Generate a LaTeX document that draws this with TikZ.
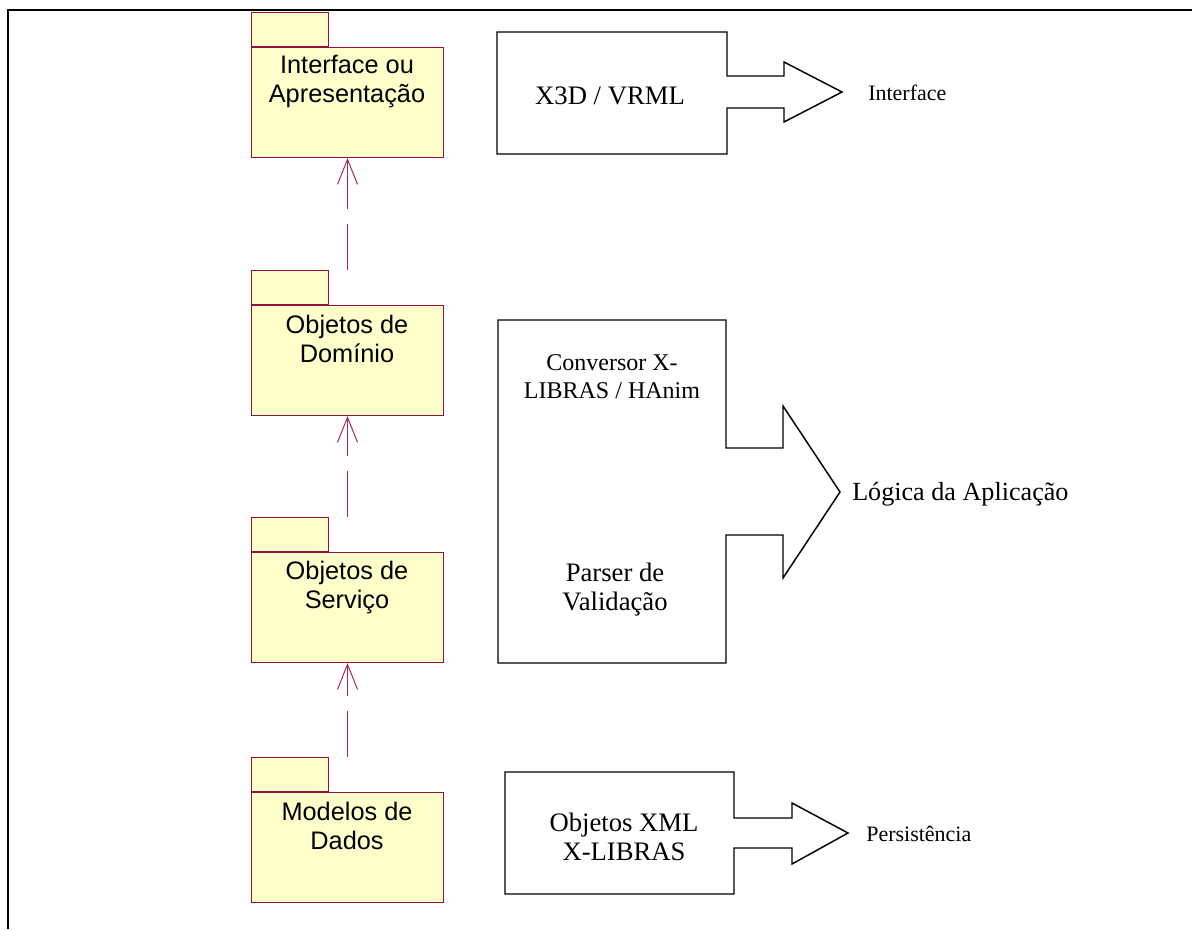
\documentclass[tikz,border=0pt]{standalone}
\usepackage{fontspec}
\setmainfont{Liberation Serif}
\setsansfont{Liberation Sans}
\usetikzlibrary{arrows.meta}
\definecolor{pkgfill}{HTML}{FFFFCC}
\definecolor{pkgline}{HTML}{99103F}
\definecolor{depline}{HTML}{A8285A}

\begin{document}
\begin{tikzpicture}[x=0.75pt,y=-0.75pt,
  pkgbody/.style={draw=pkgline, fill=pkgfill, line width=0.75pt, minimum width=144pt,
    minimum height=82.5pt, inner sep=0pt, anchor=north west},
  pkgtab/.style={draw=pkgline, fill=pkgfill, line width=0.75pt, minimum width=57.75pt,
    minimum height=25.5pt, inner sep=0pt, anchor=south west},
  pkgtext/.style={font=\sffamily\fontsize{19}{21.75}\selectfont, align=center, anchor=base, inner sep=0pt},
  dep/.style={draw=depline, line width=0.75pt, dash pattern=on 34.5pt off 11.25pt on 150pt,
    -{Straight Barb[length=18.75pt,width=15pt]}},
  blockarrow/.style={draw=black, line width=1.1pt, line join=miter},
  blocktext/.style={font=\fontsize{20}{21.5}\selectfont, align=center, anchor=base, inner sep=0pt},
  smalltext/.style={font=\fontsize{18}{21}\selectfont, align=center, anchor=base, inner sep=0pt},
  lbl/.style={font=\fontsize{16.5}{20}\selectfont, anchor=base west, inner sep=0pt}]

\useasboundingbox (0,0) rectangle (1192,929);

% frame: top and left rules
\draw[line width=1.5pt] (8,929) -- (8,10) -- (1192,10);

% packages (tab first, body on top of it); text anchored on its last baseline
\node[pkgtab]  (p1t) at (251,47) {};
\node[pkgbody] (p1)  at (251,47) {};
\node[pkgtext] (p1x) at (347,102) {Interface ou\\Apresentação};

\node[pkgtab]  (p2t) at (251,305) {};
\node[pkgbody] (p2)  at (251,305) {};
\node[pkgtext] (p2x) at (347,362) {Objetos de\\Domínio};

\node[pkgtab]  (p3t) at (251,552) {};
\node[pkgbody] (p3)  at (251,552) {};
\node[pkgtext] (p3x) at (347,608) {Objetos de\\Serviço};

\node[pkgtab]  (p4t) at (251,792) {};
\node[pkgbody] (p4)  at (251,792) {};
\node[pkgtext] (p4x) at (347,849) {Modelos de\\Dados};

% dependencies between layers
\draw[dep] (p2t.north -| p2.north) -- (p1.south);
\draw[dep] (p3t.north -| p3.north) -- (p2.south);
\draw[dep] (p4t.north -| p4.north) -- (p3.south);

% block arrows
\draw[blockarrow] (497,32) -- (727,32) -- (727,76) -- (784,76) -- (784,62) -- (842,92)
  -- (784,122) -- (784,108) -- (727,108) -- (727,154) -- (497,154) -- cycle;
\draw[blockarrow] (498,320) -- (726,320) -- (726,448) -- (783,448) -- (783,406) -- (840,492)
  -- (783,578) -- (783,535) -- (726,535) -- (726,663) -- (498,663) -- cycle;
\draw[blockarrow] (505,772) -- (734,772) -- (734,818) -- (792,818) -- (792,803) -- (848,833)
  -- (792,864) -- (792,848) -- (734,848) -- (734,894) -- (505,894) -- cycle;

% texts inside the block arrows
\node[blocktext] (t1) at (610,104) {X3D / VRML};
\node[smalltext] (t2) at (612,398) {Conversor X-\\LIBRAS / HAnim};
\node[blocktext] (t3) at (615,610) {Parser de\\Validação};
\node[blocktext] (t4) at (624,860) {Objetos XML\\X-LIBRAS};

% layer names
\node[lbl] (l1) at (868,100) {Interface};
\node[lbl, font=\fontsize{19.6}{21}\selectfont] (l2) at (852,500) {Lógica da Aplicação};
\node[lbl] (l3) at (866,841) {Persistência};

\end{tikzpicture}
\end{document}
